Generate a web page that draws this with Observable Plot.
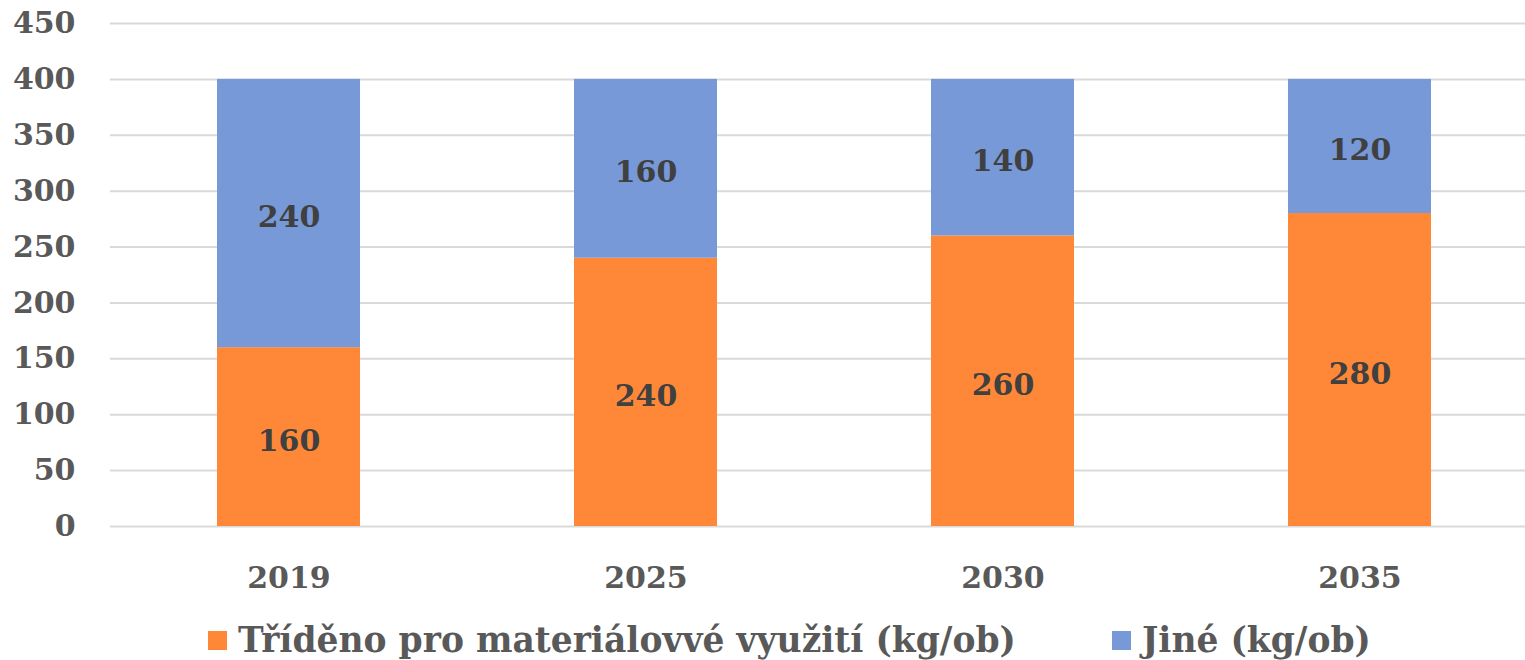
<!DOCTYPE html>
<html><head><meta charset="utf-8">
<script src="https://cdn.jsdelivr.net/npm/d3@7"></script>
<script src="https://cdn.jsdelivr.net/npm/@observablehq/plot@0.6"></script>
<style>
body{margin:0;background:#fff;}
#wrap{position:relative;width:1525px;height:660px;overflow:hidden;font-family:"DejaVu Serif",serif;font-weight:bold;}
.leg{position:absolute;top:620px;display:flex;align-items:center;font-size:34.5px;color:#595959;white-space:nowrap;}
.sw{width:19px;height:19px;margin-right:11px;}
</style></head><body>
<div id="wrap"></div>
<script>
const years = ["2019","2025","2030","2035"];
const seriesNames = ["Tříděno pro materiálovvé využití (kg/ob)","Jiné (kg/ob)"];
const sortedVals = [160,240,260,280];
const otherVals = [240,160,140,120];
const yTicks = [0,50,100,150,200,250,300,350,400,450];
const colors = ["#FF8838","#7799D8"];

const data = [];
years.forEach((y,i)=>{
  data.push({year:y, series:seriesNames[0], value:sortedVals[i]});
  data.push({year:y, series:seriesNames[1], value:otherVals[i]});
});

const chart = Plot.plot({
  width:1525, height:610,
  marginTop:23, marginBottom:84, marginLeft:110, marginRight:0,
  style:{fontFamily:"DejaVu Serif, serif", fontWeight:"bold", fontSize:"30px", color:"#595959", background:"#fff", overflow:"visible"},
  x:{domain:years, range:[110,1538], paddingInner:0.6, paddingOuter:0.3, label:null},
  y:{domain:[0,450], label:null},
  color:{domain:seriesNames, range:colors},
  marks:[
    Plot.ruleY(yTicks,{stroke:"#d9d9d9", strokeWidth:2}),
    Plot.barY(data,{x:"year", y:"value", fill:"series", order:seriesNames}),
    Plot.text(data, Plot.stackY({x:"year", y:"value", z:"series", order:seriesNames, text:d=>String(d.value), fill:"#404040", fontSize:30, fontWeight:"bold", dy:4})),
    Plot.axisY({ticks:yTicks, tickSize:0, tickPadding:35, fontSize:30, fill:"#595959"}),
    Plot.axisX({tickSize:0, tickPadding:40, fontSize:30, fill:"#595959"})
  ]
});
const wrap = document.getElementById("wrap");
wrap.appendChild(chart);
const pos = [208,1112];
seriesNames.forEach((n,i)=>{
  const d = document.createElement("div");
  d.className="leg"; d.style.left=pos[i]+"px";
  d.innerHTML = `<div class="sw" style="background:${colors[i]}"></div><span>${n}</span>`;
  wrap.appendChild(d);
});
</script>
</body></html>
